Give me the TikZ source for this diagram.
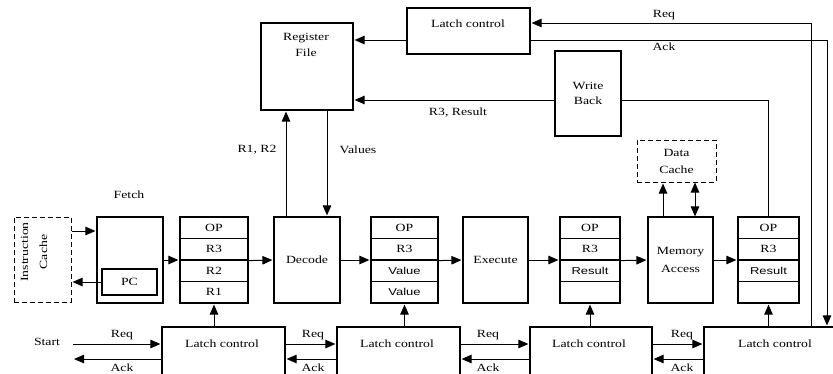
\documentclass[tikz,border=0pt]{standalone}
\usepackage{fontspec}
\setmainfont[FakeStretch=1.25]{Liberation Serif}
\newfontfamily\sansf[FakeStretch=1.3]{Liberation Sans}
\usetikzlibrary{arrows.meta,calc}
\begin{document}
\begin{tikzpicture}[x=1pt,y=-1pt,
  every node/.style={font=\fontsize{11}{15}\selectfont, inner sep=0pt},
  blk/.style={draw, line width=1.2pt, inner sep=0pt, align=center},
  dbox/.style={blk, line width=1pt, dash pattern=on 5pt off 3pt},
  row/.style={draw, line width=1.2pt, minimum height=21.5pt, inner sep=0pt},
  sv/.style={font=\sansf\fontsize{10}{12}\selectfont},
  txt/.style={inner sep=0pt},
  arr/.style={line width=1pt, -{Triangle[length=10pt,width=8.5pt]}, shorten >=1pt},
  darr/.style={line width=1pt, {Triangle[length=10pt,width=8.5pt]}-{Triangle[length=10pt,width=8.5pt]}},
  ln/.style={line width=1pt}]
\useasboundingbox (0,0) rectangle (833,373);
\clip (0,0) rectangle (833,373);

% ---------- top part ----------
\node[blk, minimum width=92pt, minimum height=87pt] (rf) at (307,66.5) {};
\node[txt, align=center, font=\fontsize{11}{16}\selectfont] (rft) at (306,45) {Register\\File};
\node[blk, minimum width=123pt, minimum height=46pt] (tlc) at (468.5,31) {};
\node[txt] (tlct) at (468,24) {Latch control};
\node[blk, minimum width=66pt, minimum height=85pt] (wb) at (588,93.5) {Write\\Back};
\node[dbox, minimum width=79pt, minimum height=42pt, font=\fontsize{11}{17}\selectfont] (dc) at (676.5,161) {Data\\Cache};

% ---------- pipeline ----------
\node[dbox, minimum width=57pt, minimum height=85pt] (ic) at (42.5,259.5) {};
\node[txt, rotate=90, align=center, font=\fontsize{11}{19}\selectfont] (ict) at (34,252) {Instruction\\Cache};
\node[txt] (fetcht) at (129,195) {Fetch};
\node[blk, minimum width=66pt, minimum height=86pt] (fetch) at (130,260) {};
\node[blk, minimum width=55pt, minimum height=26pt] (pc) at (129.5,282) {PC};

\node[row, minimum width=68pt] (r1a) at (214,227.75) {OP};
\node[row, minimum width=68pt] (r1b) at (214,249.25) {R3};
\node[row, minimum width=68pt] (r1c) at (214,270.75) {R2};
\node[row, minimum width=68pt] (r1d) at (214,292.25) {R1};

\node[blk, minimum width=66pt, minimum height=86pt] (dec) at (307,260) {Decode};

\node[row, minimum width=67pt] (r2a) at (404.5,227.75) {OP};
\node[row, minimum width=67pt] (r2b) at (404.5,249.25) {R3};
\node[row, minimum width=67pt, sv] (r2c) at (404.5,270.75) {Value};
\node[row, minimum width=67pt, sv] (r2d) at (404.5,292.25) {Value};

\node[blk, minimum width=65pt, minimum height=86pt] (exe) at (495.5,260) {Execute};

\node[row, minimum width=60pt] (r3a) at (590,227.75) {OP};
\node[row, minimum width=60pt] (r3b) at (590,249.25) {R3};
\node[row, minimum width=60pt, sv] (r3c) at (590,270.75) {Result};
\node[row, minimum width=60pt] (r3d) at (590,292.25) {};

\node[blk, minimum width=65pt, minimum height=86pt, font=\fontsize{11}{18}\selectfont] (mem) at (680.5,260) {Memory\\Access};

\node[row, minimum width=61pt] (r4a) at (768.5,227.75) {OP};
\node[row, minimum width=61pt] (r4b) at (768.5,249.25) {R3};
\node[row, minimum width=61pt, sv] (r4c) at (768.5,270.75) {Result};
\node[row, minimum width=61pt] (r4d) at (768.5,292.25) {};

% ---------- bottom latch controls ----------
\node[blk, minimum width=123pt, minimum height=73pt] (lc1) at (223.5,363.5) {};
\node[blk, minimum width=123pt, minimum height=73pt] (lc2) at (398.5,363.5) {};
\node[blk, minimum width=122pt, minimum height=73pt] (lc3) at (591,363.5) {};
\node[blk, minimum width=146pt, minimum height=73pt] (lc4) at (777,363.5) {};
\node[txt] (lc1t) at (222,344) {Latch control};
\node[txt] (lc2t) at (397,344) {Latch control};
\node[txt] (lc3t) at (589,344) {Latch control};
\node[txt] (lc4t) at (775,344) {Latch control};

% helper coordinates
\coordinate (reqy) at (0,344);
\coordinate (acky) at (0,359);
\coordinate (reqin) at (73,344);
\coordinate (ackout) at (73,359);
\coordinate (ya) at (0,23);
\coordinate (yb) at (0,40);
\coordinate (yc) at (0,100);
\coordinate (y231) at (0,231);
\coordinate (xreq) at (811,0);
\coordinate (xack) at (827,0);
\coordinate (xr12) at (286,0);
\coordinate (xval) at (327,0);
\coordinate (xm1) at (663,0);
\coordinate (xm2) at (695,0);

% start handshake
\node[txt] (start) at (47,342) {Start};
\draw[arr] (reqin) -- (reqin -| lc1.west);
\draw[arr] (acky -| lc1.west) -- (ackout);
\node[txt] (req0) at (122,335) {Req};
\node[txt] (ack0) at (122,368) {Ack};

\draw[arr] (reqy -| lc1.east) -- (reqy -| lc2.west);
\draw[arr] (acky -| lc2.west) -- (acky -| lc1.east);
\node[txt] (req1) at (313,335) {Req};
\node[txt] (ack1) at (313,368) {Ack};

\draw[arr] (reqy -| lc2.east) -- (reqy -| lc3.west);
\draw[arr] (acky -| lc3.west) -- (acky -| lc2.east);
\node[txt] (req2) at (488,335) {Req};
\node[txt] (ack2) at (488,368) {Ack};

\draw[arr] (reqy -| lc3.east) -- (reqy -| lc4.west);
\draw[arr] (acky -| lc4.west) -- (acky -| lc3.east);
\node[txt] (req3) at (682,335) {Req};
\node[txt] (ack3) at (682,368) {Ack};

% latch enables
\draw[arr] (r1d.south |- lc1.north) -- (r1d.south);
\draw[arr] (r2d.south |- lc2.north) -- (r2d.south);
\draw[arr] (r3d.south |- lc3.north) -- (r3d.south);
\draw[arr] (r4d.south |- lc4.north) -- (r4d.south);

% instruction cache / fetch
\draw[arr] (y231 -| ic.east) -- (y231 -| fetch.west);
\draw[arr] (pc.west) -- (pc.west -| ic.east);

% pipeline data flow
\draw[arr] (fetch.east) -- (fetch.east -| r1a.west);
\draw[arr] (r1b.south east) -- (dec.west);
\draw[arr] (dec.east) -- (dec.east -| r2a.west);
\draw[arr] (r2b.south east) -- (exe.west);
\draw[arr] (exe.east) -- (exe.east -| r3a.west);
\draw[arr] (r3b.south east) -- (mem.west);
\draw[arr] (mem.east) -- (mem.east -| r4a.west);

% decode <-> register file
\draw[arr] (xr12 |- dec.north) -- (xr12 |- rf.south);
\draw[arr] (xval |- rf.south) -- (xval |- dec.north);
\node[txt] (r12t) at (257,150) {R1, R2};
\node[txt] (valt) at (358,150) {Values};

% memory <-> data cache
\draw[arr] (xm1 |- mem.north) -- (xm1 |- dc.south);
\draw[darr] (xm2 |- mem.north) -- (xm2 |- dc.south);

% write back
\draw[arr] (yc -| wb.west) -- (yc -| rf.east);
\node[txt] (r3rt) at (458,113) {R3, Result};
\draw[ln] (yc -| wb.east) -- (yc -| r4a.north) -- (r4a.north);

% top latch control handshake
\draw[arr] (yb -| tlc.west) -- (yb -| rf.east);
\draw[arr] (xreq |- lc4.north) -- (xreq |- ya) -- (ya -| tlc.east);
\draw[arr] (yb -| tlc.east) -- (xack |- yb) -- (xack |- lc4.north);
\node[txt] (reqt) at (664,15) {Req};
\node[txt] (ackt) at (664,47) {Ack};
\end{tikzpicture}
\end{document}
